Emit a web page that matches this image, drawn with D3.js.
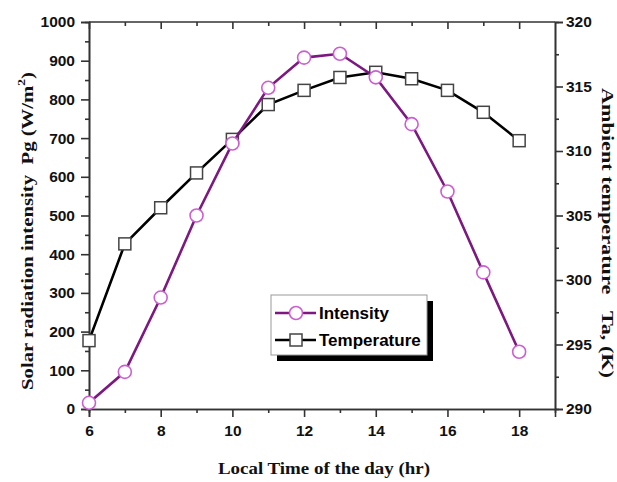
<!DOCTYPE html>
<html>
<head>
<meta charset="utf-8">
<script src="https://cdn.jsdelivr.net/npm/d3@7"></script>
<style>
	body { margin: 0; background: #fff; }
	.tick text { font-family: "Liberation Sans", Arial, sans-serif; font-weight: bold; font-size: 15.5px; fill: #111; }
	.axis path, .axis line { stroke: #333; }
	.title { font-family: "Liberation Serif", "Times New Roman", serif; font-weight: bold; font-size: 17px; fill: #111; }
</style>
</head>
<body>
<svg id="chart" width="617" height="482"></svg>
<script>

// hours of the day
var hours = [6, 7, 8, 9, 10, 11, 12, 13, 14, 15, 16, 17, 18];
// solar radiation intensity (W/m2)
var intensity = [16, 96, 288, 500, 686, 830, 908, 918, 857, 736, 562, 353, 148];
// ambient temperature (K)
var temperature = [295.3, 302.8, 305.6, 308.3, 310.9, 313.6, 314.7, 315.7, 316.1, 315.6, 314.7, 313.0, 310.8];

var xTicks = [6, 8, 10, 12, 14, 16, 18];
var leftTicks = [0, 100, 200, 300, 400, 500, 600, 700, 800, 900, 1000];
var rightTicks = [290, 295, 300, 305, 310, 315, 320];

var legendNames = ['Intensity', 'Temperature'];

const margin = {top: 22, right: 62, bottom: 73, left: 89};
const width = 617 - margin.left - margin.right,
	  height = 482 - margin.top - margin.bottom;

var svg = d3.select('#chart');
var g = svg.append('g').attr('transform', 'translate(' + margin.left + ',' + margin.top + ')');

var xScale = d3.scaleLinear().domain([6, 19]).range([0, width]);
var yLeft = d3.scaleLinear().domain([0, 1000]).range([height, 0]);
var yRight = d3.scaleLinear().domain([290, 320]).range([height, 0]);

// minor ticks (no labels)
g.append('g').attr('class', 'axis')
	.attr('transform', 'translate(0,' + height + ')')
	.call(d3.axisBottom(xScale).tickValues(d3.range(7, 19, 2)).tickSize(4).tickFormat(''));
g.append('g').attr('class', 'axis')
	.call(d3.axisLeft(yLeft).tickValues(d3.range(50, 1000, 100)).tickSize(4).tickFormat(''));
g.append('g').attr('class', 'axis')
	.attr('transform', 'translate(' + width + ',0)')
	.call(d3.axisRight(yRight).tickValues(d3.range(292.5, 320, 5)).tickSize(4).tickFormat(''));
g.append('g').attr('class', 'axis')
	.call(d3.axisBottom(xScale).tickValues(d3.range(7, 19, 2)).tickSize(4).tickFormat(''))
	.select('.domain').remove();

// main axes
g.append('g').attr('class', 'axis x')
	.attr('transform', 'translate(0,' + height + ')')
	.call(d3.axisBottom(xScale).tickValues(xTicks).tickSize(8).tickPadding(8).tickFormat(d3.format('d')));
g.append('g').attr('class', 'axis y')
	.call(d3.axisLeft(yLeft).tickValues(leftTicks).tickSize(8).tickPadding(6).tickFormat(d3.format('d')));
g.append('g').attr('class', 'axis y2')
	.attr('transform', 'translate(' + width + ',0)')
	.call(d3.axisRight(yRight).tickValues(rightTicks).tickSize(8).tickPadding(3));
// top axis, ticks pointing inside
g.append('g').attr('class', 'axis')
	.call(d3.axisBottom(xScale).tickValues(xTicks).tickSize(7).tickFormat(''))
	.select('.domain').attr('d', 'M0,0H' + width);
g.selectAll('.axis path, .axis line').attr('stroke-width', 1.6);

// axis titles
svg.append('text').attr('class', 'title')
	.attr('text-anchor', 'middle')
	.attr('x', 324).attr('y', 474)
	.attr('font-size', 18)
	.attr('textLength', 212).attr('lengthAdjust', 'spacingAndGlyphs')
	.text('Local Time of the day (hr)');
var lt = svg.append('text').attr('class', 'title')
	.attr('text-anchor', 'middle')
	.attr('transform', 'translate(33,231) rotate(-90)')
	.attr('textLength', 318).attr('lengthAdjust', 'spacingAndGlyphs');
lt.append('tspan').text('Solar radiation intensity\u00a0\u00a0Pg (W/m');
lt.append('tspan').attr('dy', -8).attr('font-size', 11).text('2');
lt.append('tspan').attr('dy', 8).text(')');
svg.append('text').attr('class', 'title')
	.attr('text-anchor', 'middle')
	.attr('transform', 'translate(602,233) rotate(90)')
	.attr('textLength', 290).attr('lengthAdjust', 'spacingAndGlyphs')
	.text('Ambient temperature\u00a0\u00a0\u00a0Ta, (K)');

// series
var line1 = d3.line()
	.x(function(d, i) { return xScale(hours[i]); })
	.y(function(d) { return yLeft(d); });
var line2 = d3.line()
	.x(function(d, i) { return xScale(hours[i]); })
	.y(function(d) { return yRight(d); });

g.append('path').datum(temperature)
	.attr('d', line2).attr('fill', 'none')
	.attr('stroke', '#000').attr('stroke-width', 2.6);
g.selectAll('.sq').data(temperature).enter().append('rect')
	.attr('class', 'sq')
	.attr('x', function(d, i) { return xScale(hours[i]) - 6; })
	.attr('y', function(d) { return yRight(d) - 6; })
	.attr('width', 12).attr('height', 12)
	.attr('fill', '#fff').attr('stroke', '#444').attr('stroke-width', 1.5);

g.append('path').datum(intensity)
	.attr('d', line1).attr('fill', 'none')
	.attr('stroke', '#7d1880').attr('stroke-width', 2.6);
g.selectAll('.ci').data(intensity).enter().append('circle')
	.attr('class', 'ci')
	.attr('cx', function(d, i) { return xScale(hours[i]); })
	.attr('cy', function(d) { return yLeft(d); })
	.attr('r', 6.5)
	.attr('fill', '#fff').attr('stroke', '#cc5fd0').attr('stroke-width', 1.6);

// legend
var lg = svg.append('g').attr('transform', 'translate(271,295)');
lg.append('rect').attr('x', 6).attr('y', 6).attr('width', 156).attr('height', 60).attr('fill', '#000');
lg.append('rect').attr('x', 0).attr('y', 0).attr('width', 156).attr('height', 60)
	.attr('fill', '#fff').attr('stroke', '#999').attr('stroke-width', 1);
legendNames.forEach(function(name, i) {
	var yy = 18 + i * 27;
	var col = i == 0 ? '#7d1880' : '#000';
	lg.append('line').attr('x1', 4).attr('x2', 45).attr('y1', yy).attr('y2', yy)
		.attr('stroke', col).attr('stroke-width', 2.6);
	if (i == 0)
		lg.append('circle').attr('cx', 25).attr('cy', yy).attr('r', 6.5)
			.attr('fill', '#fff').attr('stroke', '#cc5fd0').attr('stroke-width', 1.6);
	else
		lg.append('rect').attr('x', 19).attr('y', yy - 6).attr('width', 12).attr('height', 12)
			.attr('fill', '#fff').attr('stroke', '#444').attr('stroke-width', 1.5);
	lg.append('text').attr('x', 48).attr('y', yy + 6)
		.attr('font-family', '"Liberation Sans", Arial, sans-serif')
		.attr('font-weight', 'bold').attr('font-size', 17)
		.text(name);
});

</script>
</body>
</html>
